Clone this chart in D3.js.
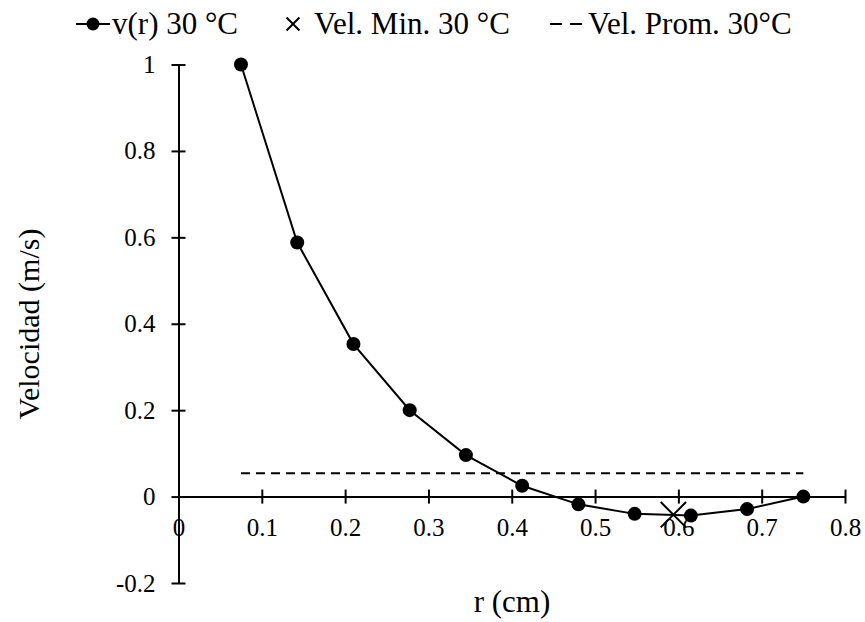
<!DOCTYPE html>
<html>
<head>
<meta charset="utf-8">
<script src="https://cdn.jsdelivr.net/npm/d3@7"></script>
<style>
  body { margin: 0; background: #fff; }
  svg text { font-family: "Liberation Serif", "Times New Roman", serif; fill: #000; }
</style>
</head>
<body>
<svg id="chart" width="865" height="622"></svg>
<script>
// radius (cm) and velocity (m/s)
const radius = [0.075, 0.1425, 0.21, 0.2775, 0.345, 0.4125, 0.48, 0.5475, 0.615, 0.6825, 0.75];
const velocity = [1, 0.588, 0.353, 0.2, 0.096, 0.025, -0.018, -0.040, -0.044, -0.029, 0];
const velMin = [{ r: 0.594, v: -0.042 }];
const velProm = [{ r: 0.075, v: 0.054 }, { r: 0.75, v: 0.054 }];
const xTicks = [0, 0.1, 0.2, 0.3, 0.4, 0.5, 0.6, 0.7, 0.8];
const yTicks = [-0.2, 0, 0.2, 0.4, 0.6, 0.8, 1];
const legendLabels = ["v(r) 30 °C", "Vel. Min. 30 °C", "Vel. Prom. 30°C"];

const svg = d3.select("#chart");

const x = d3.scaleLinear().domain([0, 0.8]).range([178.5, 845]);
const y = d3.scaleLinear().domain([-0.2, 1]).range([583, 64.5]);

// plain number labels, hyphen for negatives like the original
const fmt = d => String(d);

// y axis, ticks crossing the line
const yAxis = svg.append("g")
    .attr("transform", `translate(${x(0)},0)`)
    .call(d3.axisLeft(y).tickValues(yTicks).tickFormat(fmt).tickSize(7).tickSizeOuter(0));
yAxis.select(".domain").attr("stroke", "#000").attr("stroke-width", 2);
yAxis.selectAll(".tick line").attr("x2", 7).attr("x1", -7).attr("stroke-width", 2);
yAxis.selectAll(".tick text")
    .attr("x", -23)
    .style("font-size", "25px");

// x axis at v = 0
const xAxis = svg.append("g")
    .attr("transform", `translate(0,${y(0)})`)
    .call(d3.axisBottom(x).tickValues(xTicks).tickFormat(fmt).tickSize(7).tickSizeOuter(0));
xAxis.select(".domain").attr("stroke", "#000").attr("stroke-width", 2);
xAxis.selectAll(".tick line").attr("y1", -7).attr("y2", 7).attr("stroke-width", 2);
xAxis.selectAll(".tick text")
    .attr("y", 22)
    .attr("dy", "0.71em")
    .style("font-size", "25px");

// average velocity dashed line
svg.append("path")
    .datum(velProm)
    .attr("fill", "none")
    .attr("stroke", "#000")
    .attr("stroke-width", 2)
    .attr("stroke-dasharray", "9,6")
    .attr("d", d3.line().x(d => x(d.r)).y(d => y(d.v)));

// v(r) series
const pts = radius.map((r, i) => ({ r: r, v: velocity[i] }));
svg.append("path")
    .datum(pts)
    .attr("fill", "none")
    .attr("stroke", "#000")
    .attr("stroke-width", 2)
    .attr("d", d3.line().x(d => x(d.r)).y(d => y(d.v)));

svg.selectAll(".dot")
    .data(pts)
    .enter().append("circle")
    .attr("class", "dot")
    .attr("cx", d => x(d.r))
    .attr("cy", d => y(d.v))
    .attr("r", 7)
    .attr("fill", "#000");

// minimum marker
const cross = d3.symbol().type(d3.symbolX).size(420);
svg.selectAll(".min")
    .data(velMin)
    .enter().append("path")
    .attr("class", "min")
    .attr("transform", d => `translate(${x(d.r)},${y(d.v)})`)
    .attr("d", cross)
    .attr("fill", "none")
    .attr("stroke", "#000")
    .attr("stroke-width", 2);

// axis titles
svg.append("text")
    .attr("transform", "translate(39,324) rotate(-90)")
    .attr("text-anchor", "middle")
    .style("font-size", "30px")
    .text("Velocidad (m/s)");

svg.append("text")
    .attr("x", 512)
    .attr("y", 612)
    .attr("text-anchor", "middle")
    .style("font-size", "31px")
    .text("r (cm)");

// legend
const legend = svg.append("g").attr("transform", "translate(0,24)");

legend.append("line")
    .attr("x1", 76).attr("x2", 110).attr("y1", 0).attr("y2", 0)
    .attr("stroke", "#000").attr("stroke-width", 2);
legend.append("circle").attr("cx", 93).attr("cy", 0).attr("r", 6.5).attr("fill", "#000");
legend.append("text").attr("x", 112).attr("y", 10).style("font-size", "31px").text(legendLabels[0]);

legend.append("path")
    .attr("transform", "translate(293,0)")
    .attr("d", d3.symbol().type(d3.symbolX).size(110)())
    .attr("fill", "none").attr("stroke", "#000").attr("stroke-width", 2);
legend.append("text").attr("x", 314).attr("y", 10).style("font-size", "31px").text(legendLabels[1]);

legend.append("line")
    .attr("x1", 550).attr("x2", 582).attr("y1", 0).attr("y2", 0)
    .attr("stroke", "#000").attr("stroke-width", 2).attr("stroke-dasharray", "12,8");
legend.append("text").attr("x", 588).attr("y", 10).style("font-size", "31px").text(legendLabels[2]);
</script>
</body>
</html>
